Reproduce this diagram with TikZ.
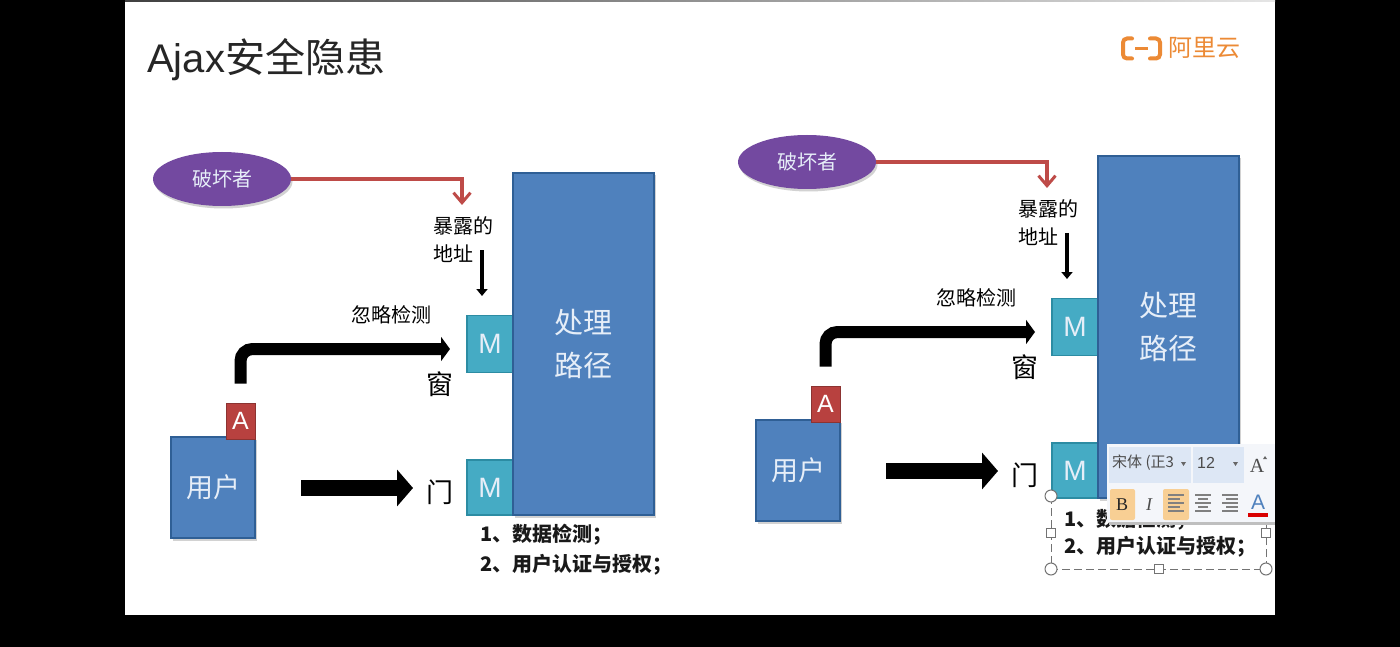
\documentclass[tikz,border=0pt]{standalone}
\usepackage{fontspec}
\setmainfont{Liberation Sans}
\newfontfamily\cjk{Noto Sans CJK SC}
\newfontfamily\serifbold[BoldFont={Liberation Serif}]{Liberation Serif}
\usetikzlibrary{shapes.geometric,arrows.meta,shadows}
\definecolor{boxblue}{HTML}{4F81BD}
\definecolor{boxline}{HTML}{2F5F95}
\definecolor{tealfill}{HTML}{45ABC4}
\definecolor{tealline}{HTML}{2C8CA3}
\definecolor{redfill}{HTML}{B8413F}
\definecolor{redline}{HTML}{8C3331}
\definecolor{purplefill}{HTML}{7349A0}
\definecolor{linkred}{HTML}{BE4B48}
\definecolor{paletext}{HTML}{E6EEF8}
\definecolor{logoorange}{HTML}{EC8A35}
\definecolor{barfill}{HTML}{F4F6FA}
\definecolor{fieldfill}{HTML}{DDE7F5}
\definecolor{btnorange}{HTML}{F8CF94}
\newcommand{\fs}[1]{\fontsize{#1}{#1}\selectfont}
\tikzset{
  softshadow/.style={drop shadow={shadow xshift=1.5pt,shadow yshift=-2.5pt,opacity=.25,fill=black!70}},
  panelbox/.style={rectangle,draw=boxline,line width=1.5pt,fill=boxblue,inner sep=0pt,text=paletext,align=center,softshadow},
  portbox/.style={rectangle,draw=tealline,line width=1.5pt,fill=tealfill,inner sep=0pt,text=paletext,font=\fs{28},minimum width=46pt},
  tagbox/.style={rectangle,draw=redline,line width=1pt,fill=redfill,inner sep=0pt,text=white,font=\fs{25},minimum width=29pt,minimum height=36pt},
  actor/.style={ellipse,fill=purplefill,inner sep=0pt,minimum width=138pt,minimum height=54pt,text=paletext,font=\cjk\fs{20},softshadow},
  label/.style={inner sep=0pt,text=black,font=\cjk\fs{20},align=left},
  biglabel/.style={inner sep=0pt,text=black,font=\cjk\fs{27}},
  notes/.style={inner sep=0pt,text=black!90,font=\cjk\bfseries\fs{20},anchor=west},
  redlink/.style={draw=linkred,line width=3.5pt,-{Straight Barb[length=10pt,width=17pt,line width=3pt]}},
  thinblack/.style={draw=black,line width=4pt,-{Triangle[length=7pt,width=11pt]}},
  bentblack/.style={draw=black,line width=12pt,rounded corners=12pt,-{Triangle[length=9pt,width=24pt]}},
  blockblack/.style={draw=black,line width=16pt,-{Triangle[length=16pt,width=36pt]}},
  handleround/.style={circle,draw=black!55,fill=white,line width=1pt,minimum size=12pt,inner sep=0pt},
  handlesquare/.style={rectangle,draw=black!55,fill=white,line width=1pt,minimum size=9pt,inner sep=0pt},
  toolglyph/.style={inner sep=0pt,text=black!70},
  panel/.pic={
    \node[portbox,minimum height=57pt] (-upper) at (490,344) {M};
    \node[portbox,minimum height=55pt] (-lower) at (490,487.5) {M};
    \node[panelbox,minimum width=141pt,minimum height=342pt,font=\cjk\fs{29}] (-path) at (583.5,344) {处理\\[14pt]路径};
    \node[panelbox,minimum width=84pt,minimum height=101pt,font=\cjk\fs{27}] (-user) at (213,487.5) {用户};
    \node[tagbox] (-tag) at (240.5,421) {A};
    \node[actor] (-actor) at (222,179) {破坏者};
    \node[label] (-addr) at (463,240) {暴露的\\[8pt]地址};
    \node[label] (-skip) at (391,315) {忽略检测};
    \node[biglabel] (-window) at (440,384) {窗};
    \node[biglabel] (-door) at (440,492) {门};
    \coordinate (-drop) at (462,205);
    \coordinate (-addrfoot) at (482,250);
    \coordinate (-gate) at (467,349);
    \coordinate (-doorin) at (427,488);
    \coordinate (-userout) at (255,488);
    \draw[redlink] (-actor.east) -| (-drop);
    \draw[thinblack] (-addrfoot) -- (482,296);
    \draw[bentblack,shorten <=19pt,shorten >=17pt] (-tag.north) |- (-gate);
    \draw[blockblack,shorten <=46pt,shorten >=14pt] (-userout) -- (-doorin);
  }
}
\begin{document}
\begin{tikzpicture}[x=1pt,y=-1pt]
\useasboundingbox (0,0) rectangle (1400,647);
% backdrop and slide sheet
\fill[black] (0,0) rectangle (1400,647);
\fill[white] (125,0) rectangle (1275,615);
\shade[left color=black!75,right color=black!10] (125,0) rectangle (1275,2);
% heading
\node[inner sep=0pt,anchor=west,text=black!85,font=\fs{40}] (heading) at (147,60) {Ajax{\cjk 安全隐患}};
% brand mark
\draw[logoorange,line width=4pt,line cap=round,rounded corners=4pt] (1132,38.5) -- (1123,38.5) -- (1123,58.5) -- (1132,58.5);
\draw[logoorange,line width=4pt,line cap=round,rounded corners=4pt] (1150,38.5) -- (1160,38.5) -- (1160,58.5) -- (1150,58.5);
\draw[logoorange,line width=2.5pt] (1135,48.5) -- (1148,48.5);
\node[inner sep=0pt,anchor=west,text=logoorange,font=\cjk\fs{24}] (brand) at (1168,48) {阿里云};
% the two panels
\pic (L) at (0,0) {panel};
\pic (R) at (585,-17) {panel};
% notes under each panel
\node[notes] (noteLa) at (480,535) {1、数据检测；};
\node[notes] (noteLb) at (480,565) {2、用户认证与授权；};
\node[notes] (noteRa) at (1064,520) {1、数据检测；};
\node[notes] (noteRb) at (1064,547) {2、用户认证与授权；};
% selection frame around the right-hand notes
\draw[black!55,line width=1pt,dash pattern=on 8pt off 4pt] (1051,496) -- (1051,569) -- (1266,569) -- (1266,496);
\node[handleround] (hTL) at (1051,496) {};
\node[handleround] (hBL) at (1051,569) {};
\node[handleround] (hBR) at (1266,569) {};
\node[handlesquare] (hL) at (1051,533) {};
\node[handlesquare] (hR) at (1266,533) {};
\node[handlesquare] (hB) at (1159,569) {};
% floating format bar
\fill[black!25] (1109,446) rectangle (1275,525);
\fill[barfill] (1107,444) rectangle (1275,522);
\fill[fieldfill] (1109,447) rectangle (1191,483);
\fill[fieldfill] (1193,447) rectangle (1244,483);
\fill[btnorange,rounded corners=2pt] (1110,489) rectangle (1135,520);
\fill[btnorange,rounded corners=2pt] (1163,489) rectangle (1189,520);
\node[toolglyph,anchor=west,font=\cjk\fs{15}] (fontname) at (1112,463) {宋体 (正3};
\node[toolglyph,anchor=west,font=\fs{16}] (fontsize) at (1197,463) {12};
\fill[black!60] (1181,462) -- (1186,462) -- (1183.5,466) -- cycle;
\fill[black!60] (1233,462) -- (1238,462) -- (1235.5,466) -- cycle;
\node[toolglyph,font=\serifbold\bfseries\fs{20}] (growA) at (1257,466) {A};
\fill[black!60] (1263,459) -- (1267,459) -- (1265,456) -- cycle;
\node[toolglyph,font=\serifbold\bfseries\fs{18},text=black!85] (boldB) at (1122,505) {B};
\node[toolglyph,font=\serifbold\itshape\fs{18}] (italicI) at (1149,505) {I};
\node[toolglyph,font=\fs{21},text=boxblue] (colorA) at (1258,502) {A};
\fill[red!85!black] (1248,512.5) rectangle (1268,516.5);
\foreach \yy/\xa/\xb in {495/1168/1184,499/1168/1180,503/1168/1184,507/1168/1180,511/1168/1184}{
  \draw[black!50,line width=1.6pt] (\xa,\yy) -- (\xb,\yy);}
\foreach \yy/\xa/\xb in {495/1195/1211,499/1198/1208,503/1195/1211,507/1198/1208,511/1195/1211}{
  \draw[black!50,line width=1.6pt] (\xa,\yy) -- (\xb,\yy);}
\foreach \yy/\xa/\xb in {495/1222/1238,499/1226/1238,503/1222/1238,507/1226/1238,511/1222/1238}{
  \draw[black!50,line width=1.6pt] (\xa,\yy) -- (\xb,\yy);}
\end{tikzpicture}
\end{document}
